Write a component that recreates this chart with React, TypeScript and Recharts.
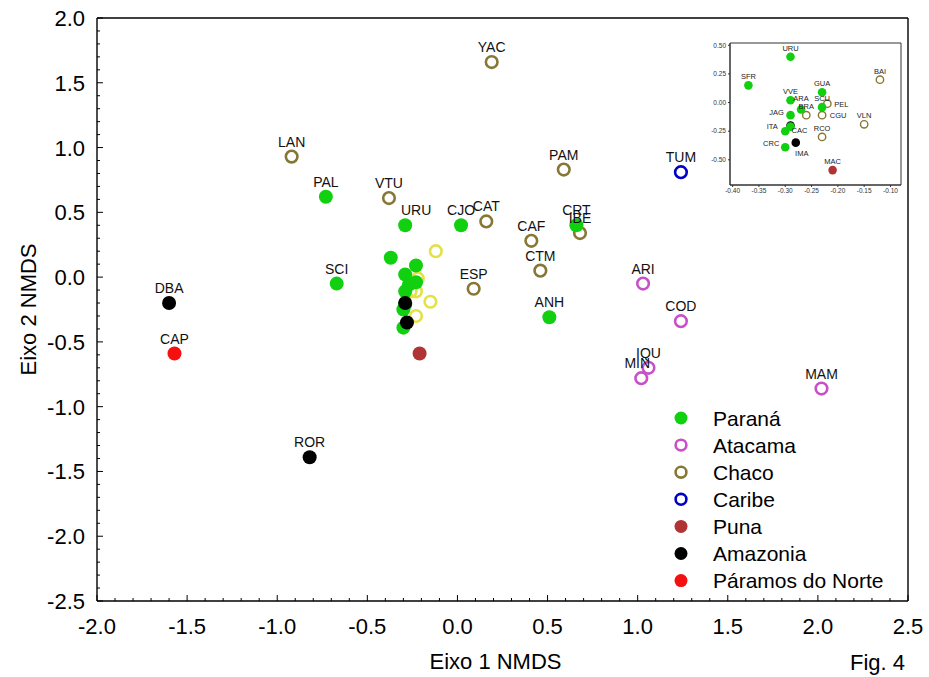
import { ScatterChart, Scatter, XAxis, YAxis, Legend, ReferenceArea, Label } from 'recharts'

type Pt = { name: string; x: number; y: number }

// outlying sites of the main ordination
const paranaOuter: Pt[] = [
  { name: 'PAL', x: -0.73, y: 0.62 },
  { name: 'CJO', x: 0.02, y: 0.4 },
  { name: 'CRT', x: 0.66, y: 0.4 },
  { name: 'SCI', x: -0.67, y: -0.05 },
  { name: 'ANH', x: 0.51, y: -0.31 },
]
const chaco: Pt[] = [
  { name: 'YAC', x: 0.19, y: 1.66 },
  { name: 'LAN', x: -0.92, y: 0.93 },
  { name: 'VTU', x: -0.38, y: 0.61 },
  { name: 'PAM', x: 0.59, y: 0.83 },
  { name: 'CAT', x: 0.16, y: 0.43 },
  { name: 'CAF', x: 0.41, y: 0.28 },
  { name: 'IBE', x: 0.68, y: 0.34 },
  { name: 'CTM', x: 0.46, y: 0.05 },
  { name: 'ESP', x: 0.09, y: -0.09 },
]
const atacama: Pt[] = [
  { name: 'ARI', x: 1.03, y: -0.05 },
  { name: 'COD', x: 1.24, y: -0.34 },
  { name: 'IQU', x: 1.06, y: -0.7 },
  { name: 'MIN', x: 1.02, y: -0.78 },
  { name: 'MAM', x: 2.02, y: -0.86 },
]
const caribe: Pt[] = [{ name: 'TUM', x: 1.24, y: 0.81 }]
const amazoniaOuter: Pt[] = [
  { name: 'DBA', x: -1.6, y: -0.2 },
  { name: 'ROR', x: -0.82, y: -1.39 },
]
const paramos: Pt[] = [{ name: 'CAP', x: -1.57, y: -0.59 }]

// central cluster (shown enlarged in the inset)
const paranaCore: Pt[] = [
  { name: 'URU', x: -0.29, y: 0.4 },
  { name: 'SFR', x: -0.37, y: 0.15 },
  { name: 'GUA', x: -0.23, y: 0.09 },
  { name: 'VVE', x: -0.29, y: 0.02 },
  { name: 'SCU', x: -0.23, y: -0.04 },
  { name: 'ARA', x: -0.27, y: -0.06 },
  { name: 'JAG', x: -0.29, y: -0.11 },
  { name: '', x: -0.29, y: -0.21 },
  { name: 'ITA', x: -0.3, y: -0.25 },
  { name: 'CRC', x: -0.3, y: -0.39 },
]
const chacoCore: Pt[] = [
  { name: 'BAI', x: -0.12, y: 0.2 },
  { name: 'PEL', x: -0.22, y: -0.01 },
  { name: 'BRA', x: -0.26, y: -0.11 },
  { name: 'CGU', x: -0.23, y: -0.11 },
  { name: 'VLN', x: -0.15, y: -0.19 },
  { name: 'RCO', x: -0.23, y: -0.3 },
]
const amazoniaCore: Pt[] = [
  { name: 'CAC', x: -0.29, y: -0.2 },
  { name: 'IMA', x: -0.28, y: -0.35 },
]
const puna: Pt[] = [{ name: 'MAC', x: -0.21, y: -0.59 }]

const xMajor = [-2.0, -1.5, -1.0, -0.5, 0.0, 0.5, 1.0, 1.5, 2.0, 2.5]
const yMajor = [-2.5, -2.0, -1.5, -1.0, -0.5, 0.0, 0.5, 1.0, 1.5, 2.0]
const insetXTicks = [-0.4, -0.35, -0.3, -0.25, -0.2, -0.15, -0.1]
const insetYTicks = [-0.5, -0.25, 0, 0.25, 0.5]

const PARANA = '#10d010'
const ATACAMA = '#c850c8'
const CHACO = '#867834'
const CARIBE = '#0000c8'
const PUNA = '#b03434'
const AMAZONIA = '#000000'
const PARAMOS = '#f41010'
const YELLOW = '#e2e246'

const legendItems = [
  { name: 'Paraná', color: PARANA, filled: true },
  { name: 'Atacama', color: ATACAMA, filled: false },
  { name: 'Chaco', color: CHACO, filled: false },
  { name: 'Caribe', color: CARIBE, filled: false },
  { name: 'Puna', color: PUNA, filled: true },
  { name: 'Amazonia', color: AMAZONIA, filled: true },
  { name: 'Páramos do Norte', color: PARAMOS, filled: true },
]

const FONT = '"Liberation Sans", Arial, sans-serif'

const withMinor = (major: number[]) => {
  const out: number[] = []
  for (let i = 0; i < major.length - 1; i++) {
    const step = (major[i + 1] - major[i]) / 5
    for (let k = 0; k < 5; k++) out.push(Math.round((major[i] + k * step) * 10) / 10)
  }
  out.push(major[major.length - 1])
  return out
}
const xTicks = withMinor(xMajor)
const yTicks = withMinor(yMajor)
const isMajor = (v: number, list: number[]) => list.some(m => Math.abs(m - v) < 1e-6)

// main chart label nudges
const labelDx: Record<string, number> = { URU: 11, MIN: -4 }
const mainLabels = [...paranaOuter, ...chaco, ...atacama, ...caribe, ...amazoniaOuter, ...paramos, paranaCore[0]]

// inset label placement
const insetPlace: Record<string, [number, number]> = {
  PEL: [14, 3],
  JAG: [-14, 0],
  CGU: [16, 3],
  ITA: [-13, -2],
  CAC: [9, 8],
  IMA: [6, 13],
  CRC: [-14, -1],
  ARA: [0, -8],
}

const dot = (color: string, filled: boolean, r: number, sw: number) => (p: any) =>
  filled ? (
    <circle cx={p.cx} cy={p.cy} r={r} fill={color} />
  ) : (
    <circle cx={p.cx} cy={p.cy} r={r} fill="none" stroke={color} strokeWidth={sw} />
  )

const BottomTick = (p: any) => {
  const v = p.payload.value
  const major = isMajor(v, xMajor)
  return (
    <g>
      <line x1={p.x} x2={p.x} y1={p.y} y2={p.y - (major ? 6 : 3)} stroke="#000" />
      {major && (
        <text x={p.x} y={p.y + 33} textAnchor="middle" fontSize={22} fontFamily={FONT} fill="#000">
          {v.toFixed(1)}
        </text>
      )}
    </g>
  )
}
const TopTick = (p: any) => {
  const major = isMajor(p.payload.value, xMajor)
  return <line x1={p.x} x2={p.x} y1={p.y} y2={p.y + (major ? 6 : 3)} stroke="#000" />
}
const LeftTick = (p: any) => {
  const v = p.payload.value
  const major = isMajor(v, yMajor)
  return (
    <g>
      <line x1={p.x} x2={p.x + (major ? 6 : 3)} y1={p.y} y2={p.y} stroke="#000" />
      {major && (
        <text x={p.x - 12} y={p.y + 8} textAnchor="end" fontSize={22} fontFamily={FONT} fill="#000">
          {v.toFixed(1)}
        </text>
      )}
    </g>
  )
}
const RightTick = (p: any) => {
  const major = isMajor(p.payload.value, yMajor)
  return <line x1={p.x} x2={p.x - (major ? 6 : 3)} y1={p.y} y2={p.y} stroke="#000" />
}

const MainLabel = (p: any) => (
  <text
    x={p.cx + (labelDx[p.payload.name] ?? 0)}
    y={p.cy - 10}
    textAnchor="middle"
    fontSize={14}
    fontFamily={FONT}
    fill="#111"
  >
    {p.payload.name}
  </text>
)

const InsetLabel = (p: any) => {
  const [dx, dy] = insetPlace[p.payload.name] ?? [0, -6]
  return (
    <text x={p.cx + dx} y={p.cy + dy} textAnchor="middle" fontSize={7.5} fontFamily={FONT} fill="#222">
      {p.payload.name}
    </text>
  )
}

const LegendBox = () => (
  <svg width={240} height={190}>
    {legendItems.map((it, i) => {
      const cy = 14 + i * 27.1
      return (
        <g key={it.name}>
          {it.filled ? (
            <circle cx={9} cy={cy} r={6.5} fill={it.color} />
          ) : (
            <circle cx={9} cy={cy} r={5.4} fill="none" stroke={it.color} strokeWidth={2.6} />
          )}
          <text x={41} y={cy + 7.5} fontSize={21} fontFamily={FONT} fill="#000">
            {it.name}
          </text>
        </g>
      )
    })}
  </svg>
)

const axisLine = { stroke: '#000', strokeWidth: 1.4 }

function MainChart() {
  return (
    <ScatterChart width={929} height={677} margin={{ top: 0, right: 0, bottom: 0, left: 0 }}>
      <XAxis
        xAxisId="b"
        type="number"
        dataKey="x"
        domain={[-2, 2.5]}
        ticks={xTicks}
        interval={0}
        height={76}
        tickSize={0}
        tickMargin={0}
        tickLine={false}
        axisLine={axisLine}
        tick={<BottomTick />}
      >
        <Label
          content={(p: any) => (
            <text
              x={p.viewBox.x + p.viewBox.width / 2 - 7}
              y={p.viewBox.y + 68}
              textAnchor="middle"
              fontSize={22}
              fontFamily={FONT}
              fill="#000"
            >
              Eixo 1 NMDS
            </text>
          )}
        />
      </XAxis>
      <XAxis
        xAxisId="t"
        orientation="top"
        type="number"
        domain={[-2, 2.5]}
        ticks={xTicks}
        interval={0}
        height={18}
        tickSize={0}
        tickMargin={0}
        tickLine={false}
        axisLine={axisLine}
        tick={<TopTick />}
      />
      <YAxis
        yAxisId="l"
        type="number"
        dataKey="y"
        domain={[-2.5, 2]}
        ticks={yTicks}
        interval={0}
        width={97}
        tickSize={0}
        tickMargin={0}
        tickLine={false}
        axisLine={axisLine}
        tick={<LeftTick />}
      >
        <Label
          content={(p: any) => (
            <text
              x={28}
              y={p.viewBox.y + p.viewBox.height / 2}
              transform={`rotate(-90 28 ${p.viewBox.y + p.viewBox.height / 2})`}
              textAnchor="middle"
              dominantBaseline="central"
              fontSize={22}
              fontFamily={FONT}
              fill="#000"
            >
              Eixo 2 NMDS
            </text>
          )}
        />
      </YAxis>
      <YAxis
        yAxisId="r"
        orientation="right"
        type="number"
        domain={[-2.5, 2]}
        ticks={yTicks}
        interval={0}
        width={21}
        tickSize={0}
        tickMargin={0}
        tickLine={false}
        axisLine={axisLine}
        tick={<RightTick />}
      />
      <Legend
        layout="vertical"
        align="center"
        verticalAlign="middle"
        content={LegendBox}
        wrapperStyle={{ left: 672, top: 404, width: 240, height: 190 }}
      />
      <Scatter xAxisId="b" yAxisId="l" name="Chaco" data={chaco} shape={dot(CHACO, false, 5.8, 2.6)} isAnimationActive={false} />
      <Scatter xAxisId="b" yAxisId="l" name="core" data={chacoCore} shape={dot(YELLOW, false, 5.8, 2.6)} isAnimationActive={false} />
      <Scatter xAxisId="b" yAxisId="l" name="Atacama" data={atacama} shape={dot(ATACAMA, false, 5.8, 2.6)} isAnimationActive={false} />
      <Scatter xAxisId="b" yAxisId="l" name="Caribe" data={caribe} shape={dot(CARIBE, false, 5.8, 2.6)} isAnimationActive={false} />
      <Scatter xAxisId="b" yAxisId="l" name="Puna" data={puna} shape={dot(PUNA, true, 7, 0)} isAnimationActive={false} />
      <Scatter xAxisId="b" yAxisId="l" name="Paraná" data={[...paranaOuter, ...paranaCore]} shape={dot(PARANA, true, 7, 0)} isAnimationActive={false} />
      <Scatter xAxisId="b" yAxisId="l" name="Amazonia" data={[...amazoniaOuter, ...amazoniaCore]} shape={dot(AMAZONIA, true, 7, 0)} isAnimationActive={false} />
      <Scatter xAxisId="b" yAxisId="l" name="Páramos do Norte" data={paramos} shape={dot(PARAMOS, true, 7, 0)} isAnimationActive={false} />
      <Scatter xAxisId="b" yAxisId="l" name="labels" data={mainLabels} shape={<MainLabel />} isAnimationActive={false} />
    </ScatterChart>
  )
}

function InsetChart() {
  const tickStyle = { fontSize: 6.5, fontFamily: FONT, fill: '#333' }
  return (
    <ScatterChart width={215} height={166} margin={{ top: 11, right: 4, bottom: 0, left: 0 }}>
      <XAxis
        type="number"
        dataKey="x"
        domain={[-0.405, -0.08]}
        ticks={insetXTicks}
        interval={0}
        height={13}
        tickSize={2}
        tickMargin={1}
        axisLine={{ stroke: '#333' }}
        tickLine={{ stroke: '#333' }}
        tick={tickStyle}
        tickFormatter={(v: number) => v.toFixed(2)}
      />
      <YAxis
        type="number"
        dataKey="y"
        domain={[-0.72, 0.52]}
        ticks={insetYTicks}
        interval={0}
        width={40}
        tickSize={2}
        tickMargin={2}
        axisLine={{ stroke: '#333' }}
        tickLine={{ stroke: '#333' }}
        tick={tickStyle}
        tickFormatter={(v: number) => v.toFixed(2)}
      />
      <ReferenceArea x1={-0.405} x2={-0.08} y1={-0.72} y2={0.52} fill="none" stroke="#333" strokeWidth={1} ifOverflow="visible" />
      <Scatter data={chacoCore} shape={dot(CHACO, false, 3.7, 1.4)} isAnimationActive={false} />
      <Scatter data={puna} shape={dot(PUNA, true, 4.3, 0)} isAnimationActive={false} />
      <Scatter data={amazoniaCore} shape={dot(AMAZONIA, true, 4.3, 0)} isAnimationActive={false} />
      <Scatter data={paranaCore} shape={dot(PARANA, true, 4.3, 0)} isAnimationActive={false} />
      <Scatter
        data={[...paranaCore, ...chacoCore, ...amazoniaCore, ...puna].filter(p => p.name)}
        shape={<InsetLabel />}
        isAnimationActive={false}
      />
    </ScatterChart>
  )
}

export default function App() {
  return (
    <div style={{ position: 'absolute', left: 0, top: 0, width: 929, height: 677, background: '#fff' }}>
      <MainChart />
      <div style={{ position: 'absolute', left: 690, top: 32, width: 215, height: 166 }}>
        <InsetChart />
      </div>
      <div
        style={{
          position: 'absolute',
          left: 850,
          top: 652,
          fontSize: 22,
          fontFamily: FONT,
          color: '#000',
          lineHeight: '22px',
        }}
      >
        Fig. 4
      </div>
    </div>
  )
}
